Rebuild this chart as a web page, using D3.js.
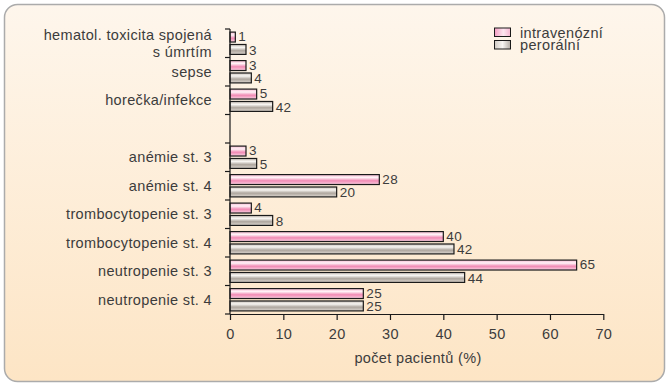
<!DOCTYPE html>
<html>
<head>
<meta charset="utf-8">
<script src="https://cdn.jsdelivr.net/npm/d3@7"></script>
<style>
    body { margin: 0; background: #fff; }
    text { font-family: "Liberation Sans", Arial, sans-serif; fill: #3c3c3c; letter-spacing: 0.35px; }
</style>
</head>
<body>
<svg id="chart" width="670" height="387"></svg>
<script>
// Data
var categories = [
    "hematol. toxicita spojená|s úmrtím",
    "sepse",
    "horečka/infekce",
    "",
    "anémie st. 3",
    "anémie st. 4",
    "trombocytopenie st. 3",
    "trombocytopenie st. 4",
    "neutropenie st. 3",
    "neutropenie st. 4"
];
var intravenous = [1, 3, 5, null, 3, 28, 4, 40, 65, 25];
var oral = [3, 4, 8, null, 5, 20, 8, 42, 44, 25];
var oralLabels = ["3", "4", "42", "", "5", "20", "8", "42", "44", "25"];
var seriesNames = ["intravenózní", "perorální"];
var xTicks = [0, 10, 20, 30, 40, 50, 60, 70];

var fontSize = 14.5;
var valueSize = 13.5;

var svg = d3.select("#chart");
var defs = svg.append("defs");

// background
var bg = defs.append("linearGradient").attr("id", "bg")
    .attr("x1", 0).attr("y1", 0).attr("x2", 0).attr("y2", 1);
bg.append("stop").attr("offset", 0).attr("stop-color", "#fef6ec");
bg.append("stop").attr("offset", 1).attr("stop-color", "#fde5c5");

function barGradient(id, stops, horizontal) {
    var g = defs.append("linearGradient").attr("id", id)
        .attr("x1", 0).attr("y1", 0)
        .attr("x2", horizontal ? 1 : 0).attr("y2", horizontal ? 0 : 1);
    stops.forEach(function(s) {
        g.append("stop").attr("offset", s[0]).attr("stop-color", s[1]);
    });
}
var pinkStops = [[0, "#f7bcd3"], [0.3, "#fff2f7"], [0.62, "#f18ab4"], [1, "#f9d0e1"]];
var grayStops = [[0, "#c9c1b9"], [0.3, "#f7f5f2"], [0.62, "#aea69e"], [1, "#dcd6d0"]];
barGradient("pink", pinkStops, false);
barGradient("gray", grayStops, false);
barGradient("pinkL", [[0, "#f39cc2"], [0.55, "#fde6f0"], [1, "#f7b5d1"]], true);
barGradient("grayL", [[0, "#cfc9c3"], [0.5, "#f7f5f2"], [1, "#b4ada6"]], true);

svg.append("rect")
    .attr("x", 4.5).attr("y", 4.5)
    .attr("width", 660).attr("height", 377)
    .attr("rx", 13).attr("ry", 13)
    .attr("fill", "url(#bg)")
    .attr("stroke", "#ababab")
    .attr("stroke-width", 1.5);

// scales
var x = d3.scaleLinear().domain([0, 70]).range([230, 603.3]);
var y = d3.scaleBand().domain(d3.range(categories.length)).range([29, 314]);
var sub = d3.scaleBand().domain([0, 1]).range([0, y.bandwidth()])
    .paddingInner(0.2).paddingOuter(0.25);

var rows = categories.map(function(c, i) {
    return { i: i, name: c, values: [intravenous[i], oral[i]],
        labels: [intravenous[i] == null ? "" : String(intravenous[i]), oralLabels[i]] };
});

// bars
var row = svg.append("g").selectAll("g").data(rows.filter(function(d) { return d.values[0] != null; }))
    .enter().append("g")
    .attr("transform", function(d) { return "translate(0," + y(d.i) + ")"; });

row.selectAll("rect").data(function(d) { return d.values; })
    .enter().append("rect")
    .attr("x", x(0))
    .attr("y", function(d, k) { return sub(k); })
    .attr("width", function(d) { return x(d) - x(0); })
    .attr("height", sub.bandwidth())
    .attr("fill", function(d, k) { return k === 0 ? "url(#pink)" : "url(#gray)"; })
    .attr("stroke", "#1a1a1a")
    .attr("stroke-width", 1.2);

row.selectAll("text").data(function(d) {
        return d.values.map(function(v, k) { return { v: v, k: k, label: d.labels[k] }; });
    })
    .enter().append("text")
    .attr("x", function(d) { return x(d.v) + 3; })
    .attr("y", function(d) { return sub(d.k) + sub.bandwidth() / 2 + (d.k === 0 ? -0.5 : 0.5); })
    .attr("dy", "0.36em")
    .attr("font-size", valueSize)
    .text(function(d) { return d.label; });

// y axis
var yAxis = svg.append("g");
yAxis.append("line")
    .attr("x1", x(0)).attr("x2", x(0))
    .attr("y1", y.range()[0]).attr("y2", y.range()[1])
    .attr("stroke", "#1a1a1a").attr("stroke-width", 1.2);
yAxis.selectAll(".tk").data(d3.range(categories.length + 1))
    .enter().append("line")
    .attr("x1", x(0) - 5).attr("x2", x(0))
    .attr("y1", function(i) { return y.range()[0] + i * y.step(); })
    .attr("y2", function(i) { return y.range()[0] + i * y.step(); })
    .attr("stroke", "#1a1a1a").attr("stroke-width", 1.2);

yAxis.selectAll(".lbl").data(rows)
    .enter().append("text")
    .attr("text-anchor", "end")
    .attr("font-size", fontSize)
    .each(function(d) {
        var lines = d.name.split("|");
        var t = d3.select(this);
        var cy = y(d.i) + y.bandwidth() / 2;
        lines.forEach(function(l, j) {
            t.append("tspan")
                .attr("x", 212)
                .attr("y", cy + (j - (lines.length - 1) / 2) * 17.5)
                .attr("dy", "0.36em")
                .text(l);
        });
    });

// x axis
var xAxis = svg.append("g")
    .attr("transform", "translate(0," + y.range()[1] + ")")
    .call(d3.axisBottom(x).tickValues(xTicks).tickSize(6).tickSizeOuter(0).tickPadding(9));
xAxis.select(".domain").attr("stroke", "#1a1a1a").attr("stroke-width", 1.2);
xAxis.selectAll(".tick line").attr("stroke", "#1a1a1a").attr("stroke-width", 1.2);
xAxis.selectAll(".tick text")
    .attr("font-family", "Liberation Sans, Arial, sans-serif")
    .attr("font-size", fontSize)
    .attr("fill", "#3c3c3c");

svg.append("text")
    .attr("x", 418).attr("y", 358)
    .attr("dy", "0.36em")
    .attr("text-anchor", "middle")
    .attr("font-size", fontSize)
    .text("počet pacientů (%)");

// legend
var legend = svg.append("g").selectAll("g").data(seriesNames)
    .enter().append("g")
    .attr("transform", function(d, k) { return "translate(494.5," + (28 + k * 12.5) + ")"; });
legend.append("rect")
    .attr("width", 16).attr("height", 8.5)
    .attr("fill", function(d, k) { return k === 0 ? "url(#pinkL)" : "url(#grayL)"; })
    .attr("stroke", "#1a1a1a").attr("stroke-width", 1);
legend.append("text")
    .attr("x", 25.5).attr("y", 4.5)
    .attr("dy", "0.36em")
    .attr("font-size", fontSize)
    .text(function(d) { return d; });
</script>
</body>
</html>
